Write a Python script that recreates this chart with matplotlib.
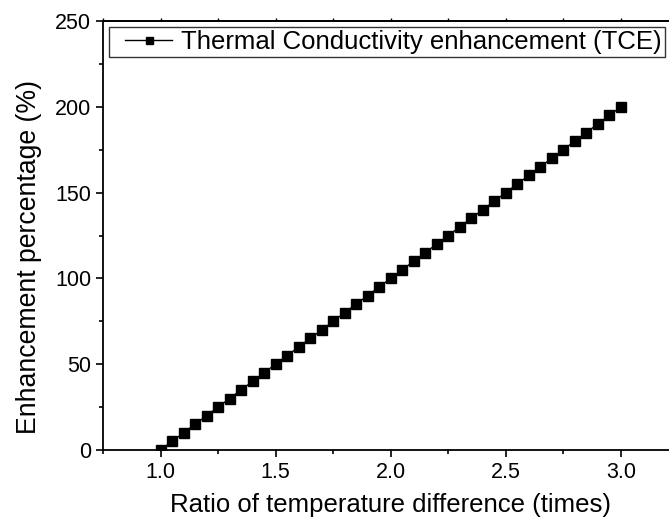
import matplotlib
matplotlib.use('Agg')
import matplotlib.pyplot as plt
from matplotlib.ticker import MultipleLocator
from matplotlib.legend_handler import HandlerLine2D

plt.rcParams['font.family'] = ['Liberation Sans', 'DejaVu Sans']

# data: ratio of temperature difference vs TCE (%)
ratio = [1.00, 1.05, 1.10, 1.15, 1.20, 1.25, 1.30, 1.35, 1.40, 1.45,
         1.50, 1.55, 1.60, 1.65, 1.70, 1.75, 1.80, 1.85, 1.90, 1.95,
         2.00, 2.05, 2.10, 2.15, 2.20, 2.25, 2.30, 2.35, 2.40, 2.45,
         2.50, 2.55, 2.60, 2.65, 2.70, 2.75, 2.80, 2.85, 2.90, 2.95, 3.00]
tce = [0, 5, 10, 15, 20, 25, 30, 35, 40, 45,
       50, 55, 60, 65, 70, 75, 80, 85, 90, 95,
       100, 105, 110, 115, 120, 125, 130, 135, 140, 145,
       150, 155, 160, 165, 170, 175, 180, 185, 190, 195, 200]

fig = plt.figure(figsize=(6.69, 5.17), dpi=100)
ax = fig.add_axes([0.154, 0.1296, 0.86, 0.8297])

line, = ax.plot(ratio, tce, color='black', lw=1, marker='s', markersize=7.2,
                label='Thermal Conductivity enhancement (TCE)')

ax.set_xlim(0.75, 3.25)
ax.set_ylim(0, 250)
ax.xaxis.set_major_locator(MultipleLocator(0.5))
ax.xaxis.set_minor_locator(MultipleLocator(0.25))
ax.yaxis.set_major_locator(MultipleLocator(50))
ax.yaxis.set_minor_locator(MultipleLocator(25))
ax.tick_params(which='both', direction='out', width=1.2, labelsize=15.5)
ax.tick_params(which='major', length=5)
ax.tick_params(which='minor', length=3)
for side in ['left', 'bottom', 'top', 'right']:
    ax.spines[side].set_linewidth(1.3)

# small ticks on top frame, no labels
top = ax.secondary_xaxis('top')
top.xaxis.set_major_locator(MultipleLocator(0.25))
top.tick_params(direction='out', length=2, width=1.0, labeltop=False)
top.spines['top'].set_linewidth(1.3)

ax.set_xlabel('Ratio of temperature difference (times)', fontsize=18.5, labelpad=7)
ax.set_ylabel('Enhancement percentage (%)', fontsize=19.2)
ax.yaxis.set_label_coords(-0.106, 0.449)

leg = ax.legend(loc='upper left', fontsize=18.5, frameon=True, fancybox=False,
                edgecolor='black', borderaxespad=0.25, handlelength=2.35,
                markerscale=0.7, borderpad=0.1, handletextpad=0.35,
                handler_map={line: HandlerLine2D(xpad=0.5)})
leg.get_frame().set_linewidth(1.0)

fig.savefig('out.png', dpi=100)
